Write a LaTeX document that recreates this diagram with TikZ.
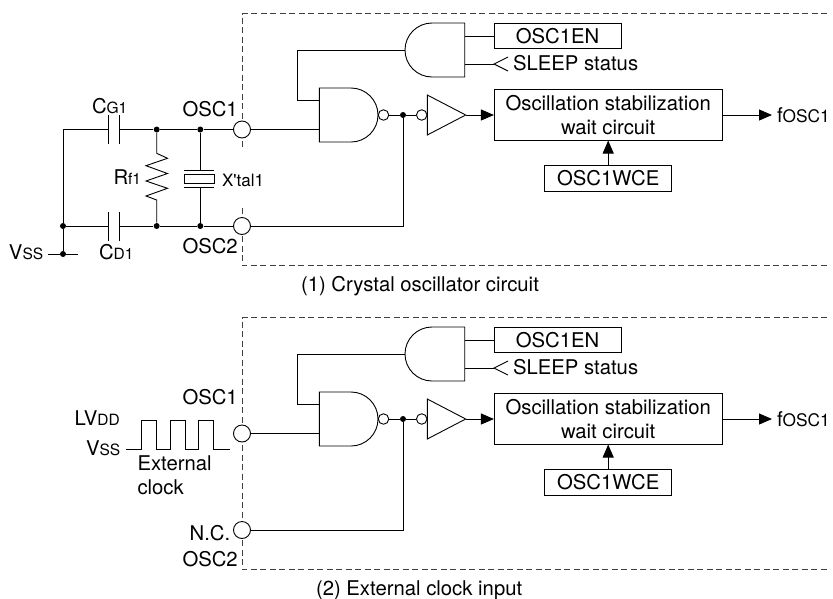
\documentclass[tikz,border=0pt]{standalone}
\usepackage{fontspec}
\setmainfont{TeX Gyre Heros}
\newfontfamily\plainfont{TeX Gyre Heros}
\usetikzlibrary{arrows.meta,calc}
\newcommand{\smalltxt}[1]{{\fontsize{15.5}{15.5}\selectfont #1}}
\tikzset{
  basic/.style  = {inner sep=0pt, outer sep=0pt, font=\fontsize{20.3}{24}\selectfont},
  lbl/.style    = {basic, anchor=base west},
  regbox/.style = {basic, draw, rectangle, align=center},
  pad/.style    = {draw, circle, fill=white, inner sep=0pt, minimum size=17pt},
  bubble/.style = {draw, circle, fill=white, inner sep=0pt, minimum size=10.5pt},
  jdot/.style   = {circle, fill=black, inner sep=0pt, minimum size=6pt},
  gatebox/.style = {rectangle, inner sep=0pt, outer sep=0pt, minimum height=54pt},
  frame/.style  = {dashed, dash pattern=on 6pt off 3.5pt, black!75}
}

\begin{document}
\begin{tikzpicture}[x=1pt, y=-1pt, line width=0.9pt,
  >={Triangle[length=13pt,width=11pt]}]
\useasboundingbox (0,0) rectangle (833,598);

% the part that both circuits share
\foreach \p/\off in {1/0,2/304} {
\begin{scope}[yshift=-\off pt]
  \coordinate (ftl\p) at (242,13.5);
  \coordinate (fbl\p) at (242,265.5);
  \draw[frame] (827,13.5) -- (ftl\p) -- (fbl\p) -- (827,265.5);

  % gates
  \node[gatebox, minimum width=59.7pt] (and\p) at (434.85,50) {};
  \node[gatebox, minimum width=58.7pt] (nand\p) at (348.65,115) {};
  \node[gatebox, minimum width=38.4pt, minimum height=40pt] (buf\p) at (446.5,115) {};
  \draw (and\p.north east) -- (432,23) arc[start angle=-90, end angle=-270, radius=27]
    -- (and\p.south east) -- cycle;
  \draw (nand\p.north west) -- (351,88) arc[start angle=-90, end angle=90, radius=27]
    -- (nand\p.south west) -- cycle;
  \draw (buf\p.north west) -- (buf\p.east) -- (buf\p.south west) -- cycle;

  \node[bubble] (nout\p) at (383.5,115) {};
  \node[jdot] (jout\p) at (403,115) {};
  \node[bubble] (inv\p) at (421.7,115) {};

  \node[regbox, minimum width=127pt, minimum height=25.5pt] (en\p) at (557.5,36) {OSC1EN};
  \node[regbox, minimum width=228.5pt, minimum height=51pt] (wait\p) at (608.2,115)
    {Oscillation stabilization\\wait circuit};
  \node[regbox, minimum width=127pt, minimum height=25.5pt] (wce\p) at (608.2,178.5) {OSC1WCE};
  \node[lbl] (sleep\p) at (513,70.7) {SLEEP status};
  \node[lbl] (fosc\p) at (777,122) {f{\fontsize{17.3}{17.3}\selectfont OSC1}};

  \coordinate (ain1\p) at ($(and\p.east)+(0,-14)$);
  \coordinate (ain2\p) at ($(and\p.east)+(0,14)$);
  \coordinate (nin1\p) at ($(nand\p.west)+(0,-14.5)$);
  \coordinate (nin2\p) at ($(nand\p.west)+(0,14.5)$);
  \coordinate (slp\p) at (494,64);
  \coordinate (fend\p) at (772,115);

  \draw (ain1\p) -- (en\p.west |- ain1\p);
  \draw (ain2\p) -- (slp\p);
  \draw (508,57) -- (slp\p) -- (508,71);
  \draw (nin1\p) -| (297.7,50) -- (and\p.west);
  \draw (nout\p) -- (jout\p) -- (inv\p);
  \draw[->] (buf\p.east) -- (wait\p.west);
  \draw[->] (wait\p.east) -- (fend\p);
  \draw[->] (wce\p.north) -- (wait\p.south);
\end{scope}
}

% (1) crystal oscillator
\node[pad] (osca1) at (242,129.5) {};
\node[pad] (oscb1) at (242,226) {};
\node[jdot] (ja) at (156.7,129.5) {};
\node[jdot] (jb) at (200.3,129.5) {};
\node[jdot] (jc) at (156.7,226) {};
\node[jdot] (jd) at (200.3,226) {};
\node[jdot] (je) at (63,226) {};
\node[jdot] (jf) at (63,254) {};

\draw (osca1) -- (nin21);
\draw (oscb1) -| (jout1);
\draw (osca1) -- (jb) -- (ja) -- (119.5,129.5);
\draw (108.5,129.5) -| (je) -- (jf);
\draw (je) -- (108.5,226);
\draw (119.5,226) -- (jc) -- (jd) -- (oscb1);
\draw (48,254) -- (jf) -- (78,254);

% capacitors
\foreach \yc in {129.5,226} {
  \draw (108.5,\yc-14.5) -- (108.5,\yc+14.5);
  \draw (119.5,\yc-14.5) -- (119.5,\yc+14.5);
}

% resistor
\draw (ja) -- (156.7,153.3) -- (167.5,158.3) -- (146,165.7) -- (167.5,173.5) -- (146,181)
  -- (167.5,188.3) -- (146,196) -- (156.7,200) -- (jc);

% crystal
\draw (jb) -- (200.3,170);
\draw (184.3,170) -- (214,170);
\draw (184.3,174.3) rectangle (214,183.3);
\draw (184.3,187) -- (214,187);
\draw (200.3,187) -- (jd);

\node[lbl] (cg) at (92,113.5) {C\smalltxt{G1}};
\node[lbl] (osc1a) at (182.5,116.5) {OSC1};
\node[lbl] (rf) at (113.5,184) {R\smalltxt{f1}};
\node[basic, fill=white, minimum height=55pt, minimum width=6pt] (gap) at (242,177) {};
\node[lbl, font=\fontsize{17}{20}\selectfont\plainfont] (xtal) at (222,186) {X'tal1};
\node[lbl] (vssa) at (9,259.5) {V\smalltxt{SS}};
\node[lbl] (cd) at (99,259.5) {C\smalltxt{D1}};
\node[lbl] (osc2a) at (182.5,253) {OSC2};
\node[lbl] (cap1) at (301,291.7) {(1) Crystal oscillator circuit};

% (2) external clock
\node[pad] (osca2) at (242,433.5) {};
\node[pad] (oscb2) at (242,530) {};
\draw (osca2) -- (nin22);
\draw (oscb2) -| (jout2);

\draw (126,449.3) -- (141.7,449.3) -- (141.7,420.3) -- (156.7,420.3) -- (156.7,449.3)
  -- (170.7,449.3) -- (170.7,420.3) -- (185,420.3) -- (185,449.3) -- (198.7,449.3)
  -- (198.7,420.3) -- (213.7,420.3) -- (213.7,449.3) -- (230,449.3);

\node[lbl] (osc1b) at (182.5,404) {OSC1};
\node[lbl] (lvdd) at (74.7,425) {LV\smalltxt{DD}};
\node[lbl] (vssb) at (86,455) {V\smalltxt{SS}};
\node[lbl] (ext) at (137.5,470.7) {External};
\node[lbl] (clk) at (137.5,494.7) {clock};
\node[lbl] (nc) at (189.7,540) {N.C.};
\node[lbl] (osc2b) at (182.5,566.7) {OSC2};
\node[lbl] (cap2) at (316,595) {(2) External clock input};
\end{tikzpicture}
\end{document}
